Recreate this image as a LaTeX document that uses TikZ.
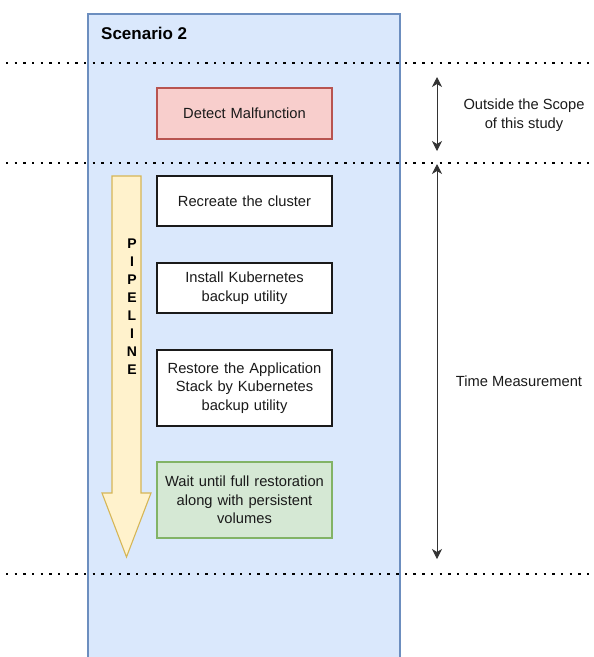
\documentclass[tikz,border=0pt]{standalone}
\usepackage{fontspec}
\setmainfont{Liberation Sans}
\usetikzlibrary{arrows.meta}

\definecolor{laneFill}{HTML}{DAE8FC}
\definecolor{laneLine}{HTML}{6C8EBF}
\definecolor{redFill}{HTML}{F8CECC}
\definecolor{redLine}{HTML}{B85450}
\definecolor{greenFill}{HTML}{D5E8D4}
\definecolor{greenLine}{HTML}{82B366}
\definecolor{pipeFill}{HTML}{FFF2CC}
\definecolor{pipeLine}{HTML}{D6B656}
\definecolor{ink}{HTML}{1A1A1A}

\tikzset{
  body/.style={font=\fontsize{14.7}{18.5}\selectfont, text=ink},
  stepbox/.style={body, draw=ink, fill=white, line width=1.1pt,
    minimum width=175pt, text width=170pt, align=center, inner sep=0pt},
  dotline/.style={line width=2.4pt, dash pattern=on 2.4pt off 6.27pt, black},
  tip/.style={Stealth[length=10pt,width=10pt,inset=3pt]},
  span/.style={line width=1pt, draw=black!80, {Stealth[length=10pt,width=10pt,inset=3pt]}-{Stealth[length=10pt,width=10pt,inset=3pt]}},
  note/.style={body, align=center}
}

\begin{document}
\begin{tikzpicture}[x=1pt,y=-1pt]
\useasboundingbox (0,0) rectangle (594,657);
\clip (0,0) rectangle (594,657);

% scenario lane (runs past the lower edge)
\fill[laneFill] (88,14) rectangle (400,700);
\draw[laneLine, line width=1.4pt] (88,700) -- (88,14) -- (400,14) -- (400,700);
\node[anchor=west, font=\fontsize{17}{20}\selectfont\bfseries, text=black, inner sep=0pt] (title) at (101,33) {Scenario 2};

% phase separators
\coordinate (d1l) at (6,63);  \coordinate (d1r) at (594,63);
\coordinate (d2l) at (6,163); \coordinate (d2r) at (594,163);
\coordinate (d3l) at (6,574); \coordinate (d3r) at (594,574);
\draw[dotline] (d1l) -- (d1r);
\draw[dotline] (d2l) -- (d2r);
\draw[dotline] (d3l) -- (d3r);

% pipeline arrow
\draw[fill=pipeFill, draw=pipeLine, line width=1.1pt, line join=miter]
  (112,176) -- (141,176) -- (141,493) -- (151,493) -- (126.5,557)
  -- (102,493) -- (112,493) -- cycle;
\node[font=\fontsize{14}{18}\selectfont\bfseries, text=black, align=center, inner sep=0pt] (pipe) at (132,307)
  {P\\I\\P\\E\\L\\I\\N\\E};

% steps
\node[stepbox, draw=redLine, fill=redFill, minimum height=51pt] (detect) at (244.5,113.5) {Detect Malfunction};
\node[stepbox, minimum height=50pt] (recreate) at (244.5,201) {Recreate the cluster};
\node[stepbox, minimum height=50pt] (install) at (244.5,288) {Install Kubernetes\\backup utility};
\node[stepbox, minimum height=76pt] (restore) at (244.5,388) {Restore the Application\\Stack by Kubernetes\\backup utility};
\node[stepbox, draw=greenLine, fill=greenFill, minimum height=76pt] (wait) at (244.5,500) {Wait until full restoration\\along with persistent\\volumes};

% measured spans
\coordinate (o1) at (437,77);
\coordinate (o2) at (437,151);
\coordinate (t1) at (437,164);
\coordinate (t2) at (437,559);
\draw[span] (o1) -- (o2);
\draw[span] (t1) -- (t2);
\node[note] (outside) at (524,115) {Outside the Scope\\of this study};
\node[note] (time) at (519,381) {Time Measurement};
\end{tikzpicture}
\end{document}
